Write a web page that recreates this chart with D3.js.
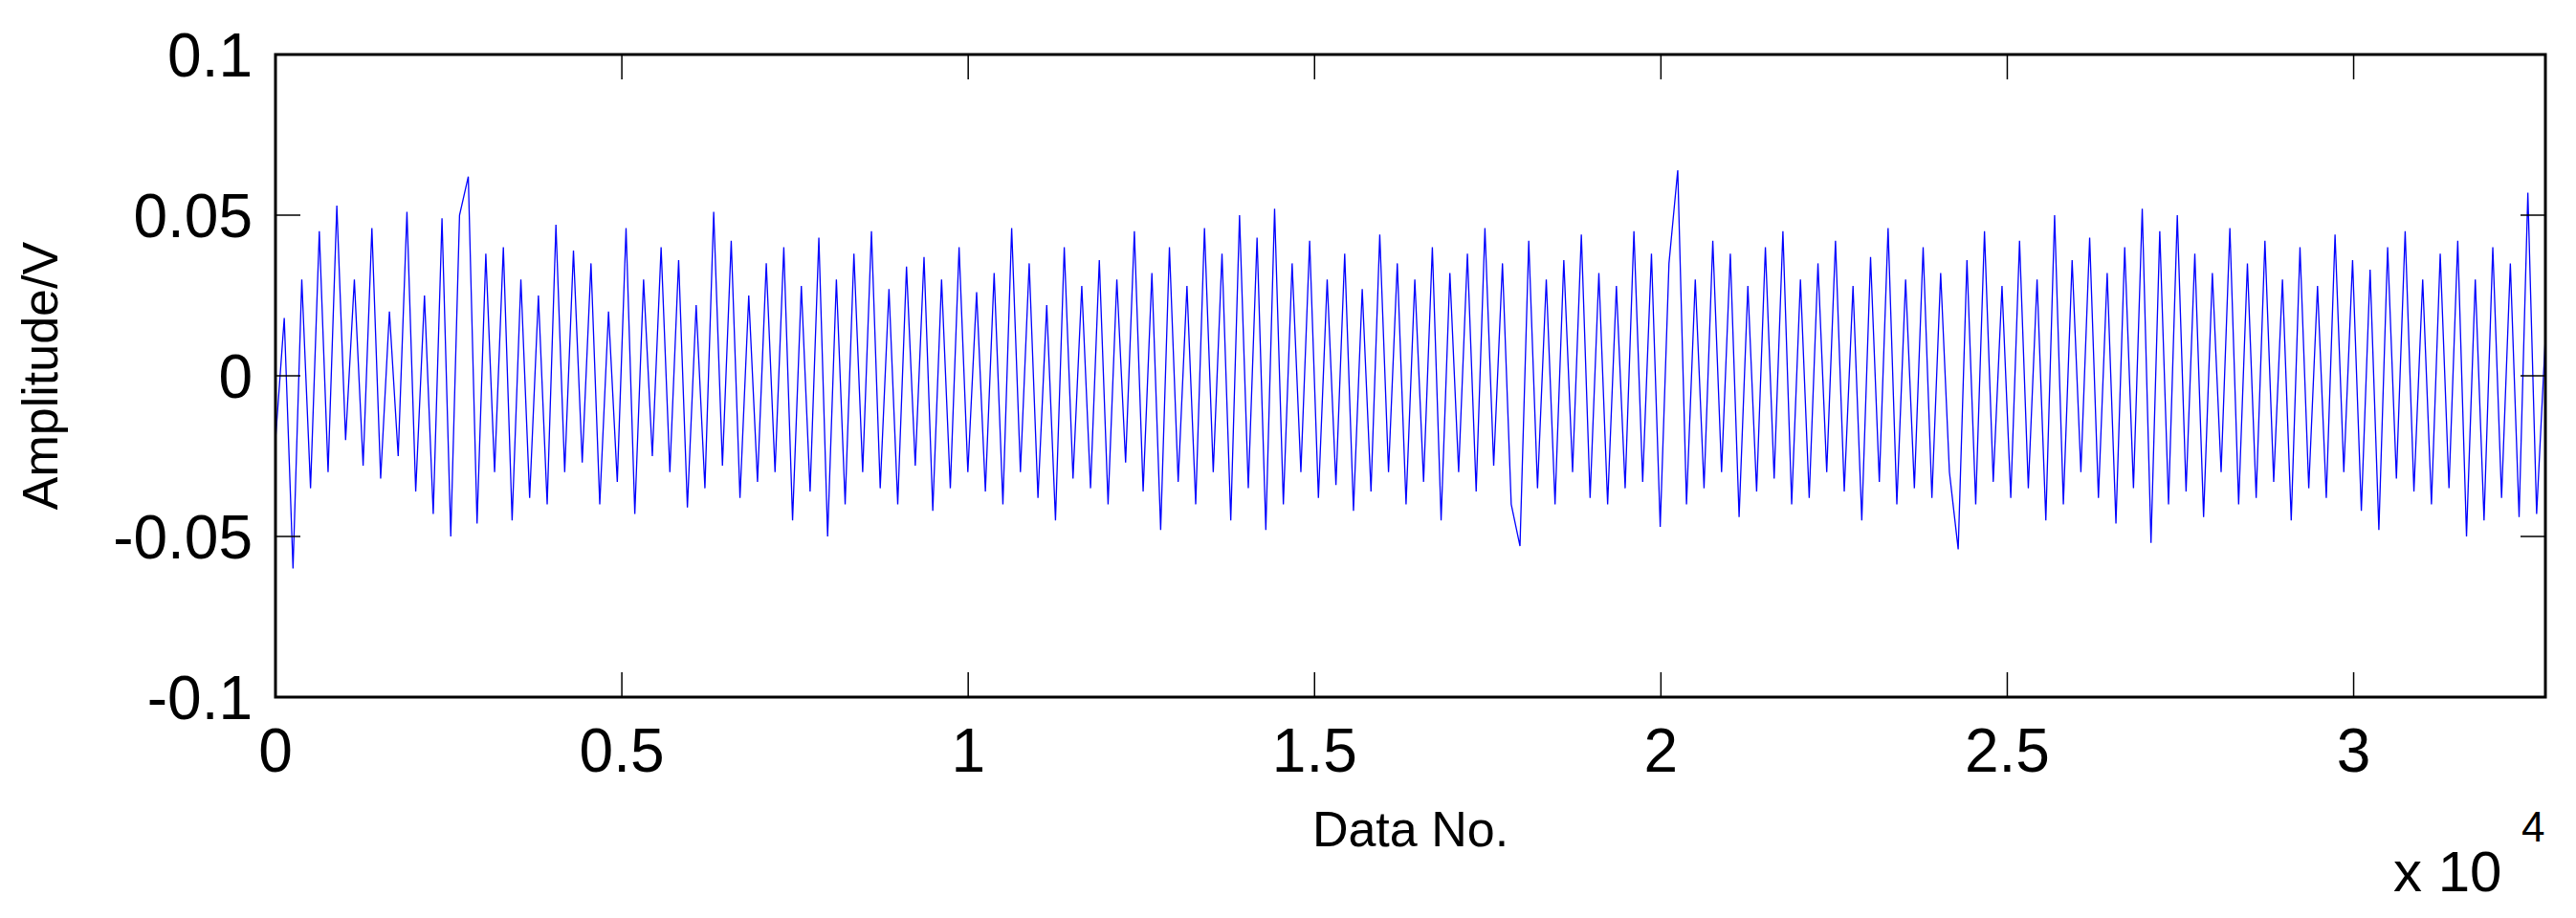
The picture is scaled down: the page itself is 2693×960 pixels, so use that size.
<!DOCTYPE html>
<html><head><meta charset="utf-8">
<script src="https://cdn.jsdelivr.net/npm/d3@7"></script>
<style>body{margin:0;background:#fff}svg{display:block}text{font-family:"Liberation Sans",Arial,sans-serif}</style>
</head><body><div id="chart"></div>
<script>
// amplitude samples (V), evenly spaced over 0..32768
var amplitude = [
 -0.02, 0.018, -0.06, 0.03, -0.035, 0.045, -0.03, 0.053, -0.02, 0.03,
 -0.028, 0.046, -0.032, 0.02, -0.025, 0.051, -0.036, 0.025, -0.043, 0.049,
 -0.05, 0.05, 0.062, -0.046, 0.038, -0.03, 0.04, -0.045, 0.03, -0.038,
 0.025, -0.04, 0.047, -0.03, 0.039, -0.027, 0.035, -0.04, 0.02, -0.033,
 0.046, -0.043, 0.03, -0.025, 0.04, -0.03, 0.036, -0.041, 0.022, -0.035,
 0.051, -0.028, 0.042, -0.038, 0.025, -0.033, 0.035, -0.03, 0.04, -0.045,
 0.028, -0.036, 0.043, -0.05, 0.03, -0.04, 0.038, -0.03, 0.045, -0.035,
 0.027, -0.04, 0.034, -0.028, 0.037, -0.042, 0.03, -0.035, 0.04, -0.03,
 0.026, -0.036, 0.032, -0.04, 0.046, -0.03, 0.035, -0.038, 0.022, -0.045,
 0.04, -0.032, 0.028, -0.035, 0.036, -0.04, 0.03, -0.027, 0.045, -0.036,
 0.032, -0.048, 0.04, -0.033, 0.028, -0.04, 0.046, -0.03, 0.038, -0.045,
 0.05, -0.035, 0.043, -0.048, 0.052, -0.04, 0.035, -0.03, 0.042, -0.038,
 0.03, -0.034, 0.038, -0.042, 0.027, -0.036, 0.044, -0.03, 0.035, -0.04,
 0.03, -0.033, 0.04, -0.045, 0.032, -0.03, 0.038, -0.036, 0.046, -0.028,
 0.035, -0.04, -0.053, 0.042, -0.035, 0.03, -0.04, 0.036, -0.03, 0.044,
 -0.038, 0.032, -0.04, 0.028, -0.035, 0.045, -0.033, 0.038, -0.047, 0.035,
 0.064, -0.04, 0.03, -0.035, 0.042, -0.03, 0.038, -0.044, 0.028, -0.036,
 0.04, -0.032, 0.045, -0.04, 0.03, -0.038, 0.035, -0.03, 0.042, -0.036,
 0.028, -0.045, 0.037, -0.033, 0.046, -0.04, 0.03, -0.035, 0.04, -0.038,
 0.032, -0.03, -0.054, 0.036, -0.04, 0.045, -0.033, 0.028, -0.038, 0.042,
 -0.035, 0.03, -0.045, 0.05, -0.04, 0.036, -0.03, 0.043, -0.038, 0.032,
 -0.046, 0.04, -0.035, 0.052, -0.052, 0.045, -0.04, 0.05, -0.036, 0.038,
 -0.044, 0.032, -0.03, 0.046, -0.04, 0.035, -0.038, 0.042, -0.033, 0.03,
 -0.045, 0.04, -0.035, 0.028, -0.038, 0.044, -0.03, 0.036, -0.042, 0.033,
 -0.048, 0.04, -0.032, 0.045, -0.036, 0.03, -0.04, 0.038, -0.035, 0.042,
 -0.05, 0.03, -0.045, 0.04, -0.038, 0.035, -0.044, 0.057, -0.043, 0.012
];
var xTicks = [0, 5000, 10000, 15000, 20000, 25000, 30000];
var xTickLabels = ["0", "0.5", "1", "1.5", "2", "2.5", "3"];
var yTicks = [-0.1, -0.05, 0, 0.05, 0.1];
var yTickLabels = ["-0.1", "-0.05", "0", "0.05", "0.1"];
var xMax = 32768;

var W = 2693, H = 960;
var m = {left: 288, right: 32, top: 57, bottom: 231};
var svg = d3.select("#chart").append("svg").attr("width", W).attr("height", H);
var x = d3.scaleLinear().domain([0, xMax]).range([m.left, W - m.right]);
var y = d3.scaleLinear().domain([-0.1, 0.1]).range([H - m.bottom, m.top]);

var step = xMax / (amplitude.length - 1);
var line = d3.line()
	.x(function(d, i){ return x(i * step); }).y(function(d){ return y(d); });
svg.append("path").datum(amplitude).attr("d", line)
	.attr("fill", "none").attr("stroke", "#0000ff").attr("stroke-width", 1.3);

var g = svg.append("g");
// ticks inside on all four sides
xTicks.forEach(function(t){
	g.append("line").attr("x1", x(t)).attr("x2", x(t)).attr("y1", y(-0.1)).attr("y2", y(-0.1) - 26).attr("stroke", "#000").attr("stroke-width", 1.5);
	g.append("line").attr("x1", x(t)).attr("x2", x(t)).attr("y1", y(0.1)).attr("y2", y(0.1) + 26).attr("stroke", "#000").attr("stroke-width", 1.5);
});
yTicks.forEach(function(t){
	g.append("line").attr("x1", x(0)).attr("x2", x(0) + 26).attr("y1", y(t)).attr("y2", y(t)).attr("stroke", "#000").attr("stroke-width", 1.5);
	g.append("line").attr("x1", x(xMax)).attr("x2", x(xMax) - 26).attr("y1", y(t)).attr("y2", y(t)).attr("stroke", "#000").attr("stroke-width", 1.5);
});
g.append("rect").attr("x", x(0)).attr("y", y(0.1)).attr("width", x(xMax) - x(0)).attr("height", y(-0.1) - y(0.1))
	.attr("fill", "none").attr("stroke", "#000").attr("stroke-width", 3);

xTicks.forEach(function(t, i){
	svg.append("text").attr("x", x(t)).attr("y", y(-0.1) + 78).attr("text-anchor", "middle")
		.attr("font-size", 64).text(xTickLabels[i]);
});
yTicks.forEach(function(t, i){
	svg.append("text").attr("x", x(0) - 24).attr("y", y(t) + 23).attr("text-anchor", "end")
		.attr("font-size", 64).text(yTickLabels[i]);
});
svg.append("text").attr("x", (x(0) + x(xMax)) / 2).attr("y", 885).attr("text-anchor", "middle")
	.attr("font-size", 52).text("Data No.");
svg.append("text").attr("transform", "translate(60," + y(0) + ") rotate(-90)").attr("text-anchor", "middle")
	.attr("font-size", 52).text("Amplitude/V");
svg.append("text").attr("x", 2502).attr("y", 932).attr("font-size", 60).text("x 10");
svg.append("text").attr("x", 2636).attr("y", 880).attr("font-size", 44).text("4");
</script></body></html>
